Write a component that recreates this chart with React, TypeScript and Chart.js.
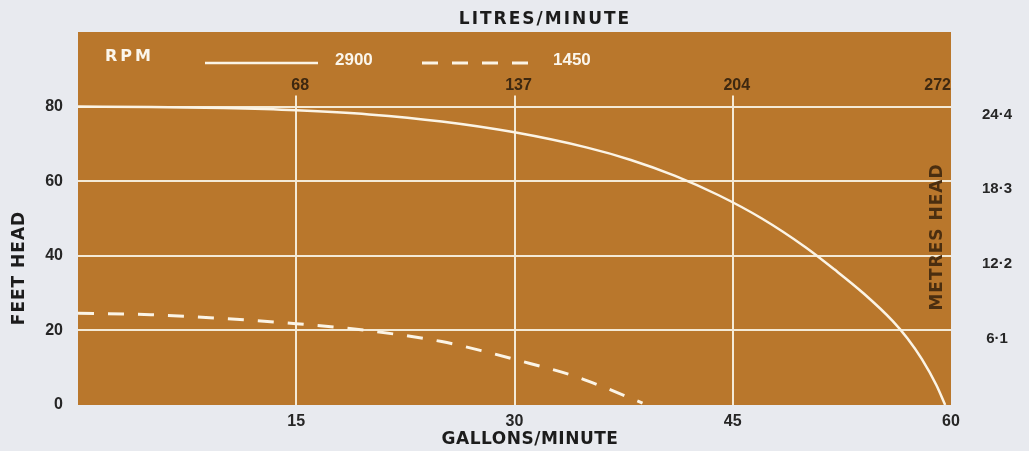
import React, { useEffect, useRef } from "react";
import { Chart, registerables } from "chart.js";

Chart.register(...registerables);

// ---- data ----
const gallonTicks = [15, 30, 45, 60];
const litreLabels = ["68", "137", "204", "272"];
const feetTicks = [0, 20, 40, 60, 80];
const metreAtFeet = [80, 60, 40, 20];
const metreLabels = ["24·4", "18·3", "12·2", "6·1"];
const rpmLabels = ["2900", "1450"];

const flow2900 = [0, 5, 10, 15, 20, 25, 30, 35, 38, 41, 44, 47, 50, 52, 54, 56, 57, 58, 59, 59.6];
const head2900 = [80, 79.9, 79.6, 79.0, 77.9, 76.0, 73.1, 69.0, 65.7, 61.5, 56.3, 50.0, 42.3, 36.3, 29.9, 22.5, 17.9, 12.3, 5.3, 0];

const flow1450 = [0, 5, 10, 15, 20, 25, 28, 31, 34, 36, 38.8];
const head1450 = [24.6, 24.2, 23.2, 21.8, 19.9, 17.0, 14.3, 11.2, 7.9, 5.0, 0.5];

// ---- style ----
const PLOT_BG = "#b9772c";
const PAGE_BG = "#e8eaef";
const LINE_CLR = "#fbf4e6";
const GRID_CLR = "#f4ead6";
const DARK = "#262626";
const BROWN = "#3e2810";
const NUM_FONT = "'Liberation Sans', Arial, sans-serif";
const TITLE_FONT = "'DejaVu Sans', sans-serif";
const V_LINE_TOP = 83;

export default function App() {
  const ref = useRef<HTMLCanvasElement>(null);

  useEffect(() => {
    const canvas = ref.current!;

    const decor = {
      id: "decor",
      beforeDatasetsDraw(chart: any) {
        const { ctx, chartArea: a, scales } = chart;
        const xs = scales.x;
        const ys = scales.y;
        ctx.save();
        ctx.fillStyle = PLOT_BG;
        ctx.fillRect(a.left, a.top, a.right - a.left, a.bottom - a.top);
        ctx.strokeStyle = GRID_CLR;
        ctx.lineWidth = 2;
        feetTicks.forEach((v) => {
          if (v <= 0) return;
          const y = Math.round(ys.getPixelForValue(v));
          ctx.beginPath();
          ctx.moveTo(a.left, y);
          ctx.lineTo(a.right, y);
          ctx.stroke();
        });
        gallonTicks.forEach((v) => {
          if (v >= xs.max) return;
          const x = Math.round(xs.getPixelForValue(v));
          ctx.beginPath();
          ctx.moveTo(x, ys.getPixelForValue(V_LINE_TOP));
          ctx.lineTo(x, a.bottom);
          ctx.stroke();
        });
        ctx.restore();
      },
      afterDatasetsDraw(chart: any) {
        const { ctx, chartArea: a, scales } = chart;
        const xs = scales.x;
        const ys = scales.y;
        ctx.save();
        ctx.textBaseline = "middle";

        // top litre labels (inside plot)
        ctx.fillStyle = BROWN;
        ctx.font = `bold 16px ${NUM_FONT}`;
        gallonTicks.forEach((v, i) => {
          const x = xs.getPixelForValue(v);
          if (i === gallonTicks.length - 1) {
            ctx.textAlign = "right";
            ctx.fillText(litreLabels[i], a.right, 86);
          } else {
            ctx.textAlign = "center";
            ctx.fillText(litreLabels[i], x + 4, 86);
          }
        });

        // right metre labels
        ctx.fillStyle = DARK;
        ctx.font = `bold 15px ${NUM_FONT}`;
        ctx.textAlign = "center";
        metreAtFeet.forEach((v, i) => {
          ctx.fillText(metreLabels[i], 997, ys.getPixelForValue(v) + 8);
        });

        // titles
        ctx.fillStyle = "#1c1c1c";
        ctx.font = `bold 17px ${TITLE_FONT}`;
        ctx.textAlign = "center";
        (ctx as any).letterSpacing = "2px";
        ctx.fillText("LITRES/MINUTE", 545, 20);
        (ctx as any).letterSpacing = "0.5px";
        ctx.fillText("GALLONS/MINUTE", 530, 440);
        (ctx as any).letterSpacing = "1px";

        ctx.save();
        ctx.translate(20, 268);
        ctx.rotate(-Math.PI / 2);
        ctx.fillText("FEET HEAD", 0, 0);
        ctx.restore();

        ctx.save();
        ctx.fillStyle = "#4a2e10";
        ctx.translate(938, 237);
        ctx.rotate(-Math.PI / 2);
        ctx.fillText("METRES HEAD", 0, 0);
        ctx.restore();

        // legend
        ctx.fillStyle = "#fbf6ec";
        ctx.font = `bold 16px ${TITLE_FONT}`;
        (ctx as any).letterSpacing = "3px";
        ctx.textAlign = "left";
        ctx.fillText("RPM", 105, 57);
        (ctx as any).letterSpacing = "0px";

        const ds = chart.data.datasets;
        ctx.font = `bold 17px ${NUM_FONT}`;
        const legendItems = [
          { x0: 205, x1: 318, tx: 335 },
          { x0: 422, x1: 530, tx: 553 },
        ];
        legendItems.forEach((it, i) => {
          ctx.strokeStyle = LINE_CLR;
          ctx.lineWidth = ds[i].borderWidth;
          ctx.setLineDash(ds[i].borderDash || []);
          ctx.beginPath();
          ctx.moveTo(it.x0, 63);
          ctx.lineTo(it.x1, 63);
          ctx.stroke();
          ctx.setLineDash([]);
          ctx.fillText(rpmLabels[i], it.tx, 60);
        });
        ctx.restore();
      },
    };

    const chart = new Chart(canvas, {
      type: "line",
      data: {
        datasets: [
          {
            label: rpmLabels[0],
            data: flow2900.map((x, i) => ({ x, y: head2900[i] })),
            borderColor: LINE_CLR,
            borderWidth: 2.5,
            pointRadius: 0,
            cubicInterpolationMode: "monotone",
            fill: false,
          },
          {
            label: rpmLabels[1],
            data: flow1450.map((x, i) => ({ x, y: head1450[i] })),
            borderColor: LINE_CLR,
            borderWidth: 3,
            borderDash: [16, 14],
            pointRadius: 0,
            cubicInterpolationMode: "monotone",
            fill: false,
          },
        ],
      } as any,
      options: {
        responsive: false,
        animation: false,
        events: [],
        layout: { padding: { top: 32, right: 78, left: 0, bottom: 0 } },
        plugins: { legend: { display: false }, tooltip: { enabled: false } },
        scales: {
          x: {
            type: "linear",
            min: 0,
            max: 60,
            position: "bottom",
            afterBuildTicks: (s: any) => {
              s.ticks = gallonTicks.map((v) => ({ value: v }));
            },
            afterFit: (s: any) => {
              s.height = 46;
            },
            grid: { display: false, drawTicks: false },
            border: { display: false },
            ticks: {
              padding: 7,
              color: DARK,
              font: { family: NUM_FONT, size: 16, weight: "bold" },
              maxRotation: 0,
              autoSkip: false,
            },
          },
          y: {
            type: "linear",
            min: 0,
            max: 100,
            afterBuildTicks: (s: any) => {
              s.ticks = feetTicks.map((v) => ({ value: v }));
            },
            afterFit: (s: any) => {
              s.width = 78;
            },
            grid: { display: false, drawTicks: false },
            border: { display: false },
            ticks: {
              padding: 15,
              color: DARK,
              font: { family: NUM_FONT, size: 16, weight: "bold" },
              autoSkip: false,
            },
          },
        },
      } as any,
      plugins: [decor],
    });
    return () => chart.destroy();
  }, []);

  return (
    <div
      style={{
        position: "fixed",
        left: 0,
        top: 0,
        width: 1029,
        height: 451,
        background: PAGE_BG,
      }}
    >
      <canvas ref={ref} width={1029} height={451} style={{ display: "block" }} />
    </div>
  );
}
